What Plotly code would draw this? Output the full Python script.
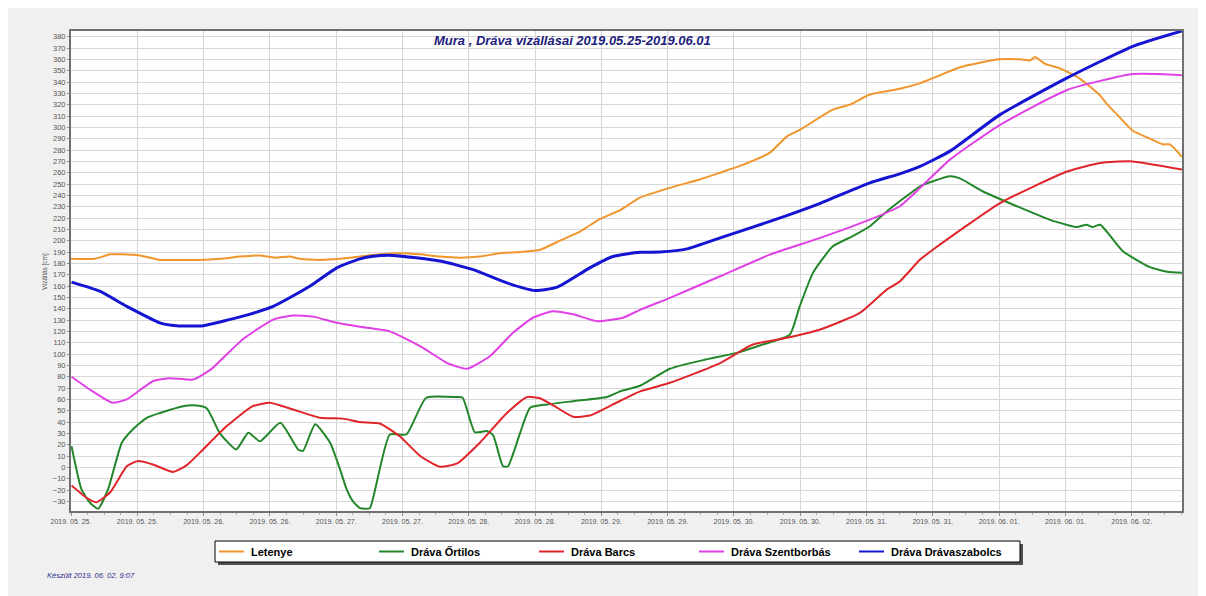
import plotly.graph_objects as go
import pandas as pd

# hours since 2019-05-25 00:00 and water level values [cm]
letenye_h = [0, 4.3, 7.1, 8.9, 12.5, 16.1, 19.7, 23.3, 27.0, 30.6, 34.2, 36.9, 39.6, 41.4, 45.1, 48.7, 52.3, 55.9, 59.5, 63.2, 66.8, 70.4, 74.0, 77.6, 81.3, 84.9, 88.5, 92.1, 95.7, 99.4, 103.0, 108.4, 113.8, 117.5, 121.1, 126.5, 129.6, 132.0, 137.9, 141.0, 144.6, 150.0, 153.7, 157.3, 160.9, 164.5, 168.1, 171.8, 173.6, 174.5, 176.3, 179.0, 182.6, 186.3, 187.6, 189.4, 192.2, 195.3, 197.6, 198.9, 201.1]
letenye_v = [184, 184, 188, 188, 187, 183, 183, 183, 184, 186, 187, 185, 186, 184, 183, 184, 186, 188, 189, 188, 186, 185, 186, 189, 190, 192, 200, 208, 219, 227, 238, 246.6, 254, 260, 266, 277.7, 292, 298, 315.6, 320, 329, 334, 339, 346, 353, 357, 360, 360, 359, 362, 356, 352, 343, 328, 320, 311, 297, 290, 285, 285, 274]

ortilos_h = [0.1, 1.9, 3.4, 4.9, 6.7, 9.2, 11.3, 13.7, 16.1, 20.3, 22.8, 24.6, 26.9, 29.9, 32.1, 34.2, 37.9, 41.1, 42.0, 44.2, 46.9, 48.7, 49.9, 51.0, 52.3, 53.2, 54.1, 57.7, 60.7, 64.3, 69.7, 70.9, 73.1, 75.2, 76.4, 78.2, 79.1, 81.3, 83.1, 86.2, 90.9, 97.0, 99.4, 103.0, 108.4, 114.4, 120.5, 125.2, 130.1, 131.9, 134.3, 137.9, 141.5, 144.6, 147.7, 150.0, 153.7, 156.0, 159.1, 160.9, 165.0, 171.2, 177.1, 182.0, 183.8, 184.9, 186.3, 190.4, 195.3, 198.4, 201.1]
ortilos_v = [18.7, -19.5, -31, -36.5, -19.5, 21.7, 34, 43.7, 48, 54, 54.5, 52, 30.5, 15.8, 30.5, 23, 39.3, 15.8, 14.5, 38, 21.7, -1.8, -19.5, -29.8, -36, -36.5, -36, 29, 29, 61.4, 62, 61.4, 31, 32, 28.5, 1, 1, 30.5, 52.6, 55.5, 58.4, 62, 67, 72, 87, 94.6, 101, 108.4, 117, 142, 171.6, 195, 204, 212.7, 226, 234.8, 248, 252.4, 256.8, 255, 243.6, 230.4, 218.6, 212, 214, 212, 214, 190.7, 176.6, 172.5, 171.7]

barcs_h = [0.1, 2.8, 4.6, 7.1, 10.1, 12.1, 14.8, 18.5, 20.9, 23.9, 28.2, 32.9, 36.0, 40.2, 45.1, 49.2, 52.3, 55.9, 59.5, 63.2, 66.8, 69.9, 74.0, 78.9, 82.5, 84.9, 88.0, 90.9, 93.9, 98.1, 103.0, 108.4, 117.5, 123.4, 129.6, 135.6, 142.8, 147.7, 150.0, 153.7, 156.0, 168.1, 180.3, 186.3, 191.7, 201.1]
barcs_v = [-16, -26.8, -30.7, -22, 1, 5.5, 2.6, -4, 1.7, 15.8, 36.4, 54, 57, 51, 43.7, 43, 40, 38.7, 27.5, 10, 0.5, 3.5, 21.7, 48, 62, 61, 52.6, 44.6, 45.7, 55.5, 67, 74.6, 92, 108.4, 114.3, 121.6, 136.3, 157, 164, 183.3, 192, 233, 261, 268.6, 270, 262.7]

szentborbas_h = [0.1, 3.4, 7.5, 10.1, 14.8, 17.9, 22.1, 25.2, 31.1, 36.6, 40.2, 43.8, 48.1, 52.3, 57.7, 63.7, 68.1, 71.7, 75.8, 80.0, 83.6, 87.2, 90.9, 95.2, 99.9, 103.0, 108.4, 117.5, 126.5, 135.6, 144.6, 150.0, 153.7, 159.1, 168.1, 180.3, 192.2, 201.1]
szentborbas_v = [80, 68.7, 57, 60, 76, 78.7, 77.5, 86, 113, 130.4, 134, 133, 127.5, 124, 120, 105.5, 92, 87, 98, 118.7, 132, 137.8, 135, 129, 132, 139, 149.6, 168.6, 187.7, 202.5, 218.6, 230.4, 246.6, 271.5, 302, 333, 347, 346]

drvszab_h = [0.1, 5.2, 10.1, 16.1, 19.1, 23.9, 31.1, 36.6, 43.3, 48.1, 52.3, 54.7, 58.3, 66.8, 72.8, 78.9, 84.0, 88.0, 93.9, 98.1, 103.0, 106.6, 111.5, 117.5, 126.5, 135.6, 144.6, 150.0, 153.7, 159.1, 168.1, 180.3, 192.2, 201.1]
drvszab_v = [163.4, 155.4, 142, 127.5, 125, 125, 133.4, 142, 160, 176, 184, 186.3, 187, 182, 174.5, 162.8, 156, 159, 176, 186, 189.7, 190, 192.8, 202.5, 217, 233, 251, 259, 265.6, 279, 311, 343.6, 371.5, 385]

series_names = ["Letenye", "Dráva Őrtilos", "Dráva Barcs", "Dráva Szentborbás", "Dráva Drávaszabolcs"]
series_colors = ["#f0962d", "#23872a", "#e0252a", "#e040e6", "#1414d2"]
series_widths = [2, 2, 2, 2, 3]
series_data = [(letenye_h, letenye_v), (ortilos_h, ortilos_v), (barcs_h, barcs_v),
               (szentborbas_h, szentborbas_v), (drvszab_h, drvszab_v)]

base = pd.Timestamp("2019-05-25 00:00")

W, H = 1206, 596
OFF = 8  # page body margin offsets the figure in the screenshot
# plot area in screenshot pixels
PL, PR, PT, PB = 71, 1182, 31, 511
def px(xp):
    return (xp - PL) / (PR - PL)
def py(yp):
    return (PB - yp) / (PB - PT)

fig = go.Figure()
for name, col, w, (h, v) in zip(series_names, series_colors, series_widths, series_data):
    t = base + pd.to_timedelta(h, unit="h")
    fig.add_trace(go.Scatter(x=t, y=v, mode="lines", name=name, showlegend=False,
                             line=dict(color=col, width=w, shape="spline", smoothing=0.5)))

font_family = "Liberation Sans, Arial, sans-serif"

shapes = []
annotations = []

# manual legend box with shadow
LX0, LX1, LY0, LY1 = 215, 1020, 541, 562
shapes.append(dict(type="rect", xref="paper", yref="paper", x0=px(LX0 + 3), x1=px(LX1 + 3),
                   y0=py(LY1 + 3), y1=py(LY0 + 3), fillcolor="#505050", line=dict(width=0)))
shapes.append(dict(type="rect", xref="paper", yref="paper", x0=px(LX0), x1=px(LX1),
                   y0=py(LY1), y1=py(LY0), fillcolor="#ffffff", line=dict(color="#000000", width=1)))
entry_x = [219, 379, 539, 699, 859]
ymid = (LY0 + LY1) / 2
for ex, name, col in zip(entry_x, series_names, series_colors):
    shapes.append(dict(type="line", xref="paper", yref="paper", x0=px(ex), x1=px(ex + 25),
                       y0=py(ymid), y1=py(ymid), line=dict(color=col, width=2)))
    annotations.append(dict(text="<b>%s</b>" % name, xref="paper", yref="paper",
                            x=px(ex + 30), y=py(ymid), xanchor="left", yanchor="middle",
                            showarrow=False,
                            font=dict(family=font_family, size=11, color="#000000")))

annotations += [
    dict(text="<b><i>Mura , Dráva vízállásai 2019.05.25-2019.06.01</i></b>",
         xref="paper", yref="paper", x=px(572), y=py(40),
         xanchor="center", yanchor="middle", showarrow=False,
         font=dict(family=font_family, size=13, color="#1c1c7c")),
    dict(text="Vízállás [cm]", xref="paper", yref="paper",
         x=px(45), y=py(272), textangle=-90,
         xanchor="center", yanchor="middle", showarrow=False,
         font=dict(family=font_family, size=6.5, color="#555555")),
    dict(text="<i>Készült 2019. 06. 02. 9:07</i>", xref="paper", yref="paper",
         x=px(45), y=py(575), xanchor="left", yanchor="middle",
         showarrow=False, font=dict(family=font_family, size=7.5, color="#2a2a8a")),
]

fig.update_layout(
    width=W, height=H,
    margin=dict(l=PL - OFF, r=W - (PR - OFF), t=PT - OFF, b=H - (PB - OFF)),
    paper_bgcolor="#f0f0f0",
    plot_bgcolor="#ffffff",
    font=dict(family=font_family, color="#555555"),
    showlegend=False,
    xaxis=dict(
        type="date",
        range=[base, base + pd.Timedelta(hours=201.1)],
        tick0=base, dtick=12*3600*1000,
        tickformat="%Y. %m. %d.",
        tickfont=dict(size=7, color="#555555"),
        showgrid=True, gridcolor="#d4d4d4", gridwidth=1,
        showline=True, linecolor="#707070", linewidth=2, mirror=True,
        ticks="outside", ticklen=3, tickcolor="#909090",
        minor=dict(dtick=3*3600*1000, ticks="outside", ticklen=2, tickcolor="#b0b0b0", showgrid=False),
        zeroline=False,
    ),
    yaxis=dict(
        range=[-38.5, 385],
        tick0=0, dtick=10,
        tickfont=dict(size=7.5, color="#555555"),
        showgrid=True, gridcolor="#d8d8d8", gridwidth=1,
        showline=True, linecolor="#707070", linewidth=2, mirror=True,
        ticks="outside", ticklen=2, tickcolor="#909090",
        zeroline=False,
    ),
    shapes=shapes,
    annotations=annotations,
)

fig.write_html("out.html")
